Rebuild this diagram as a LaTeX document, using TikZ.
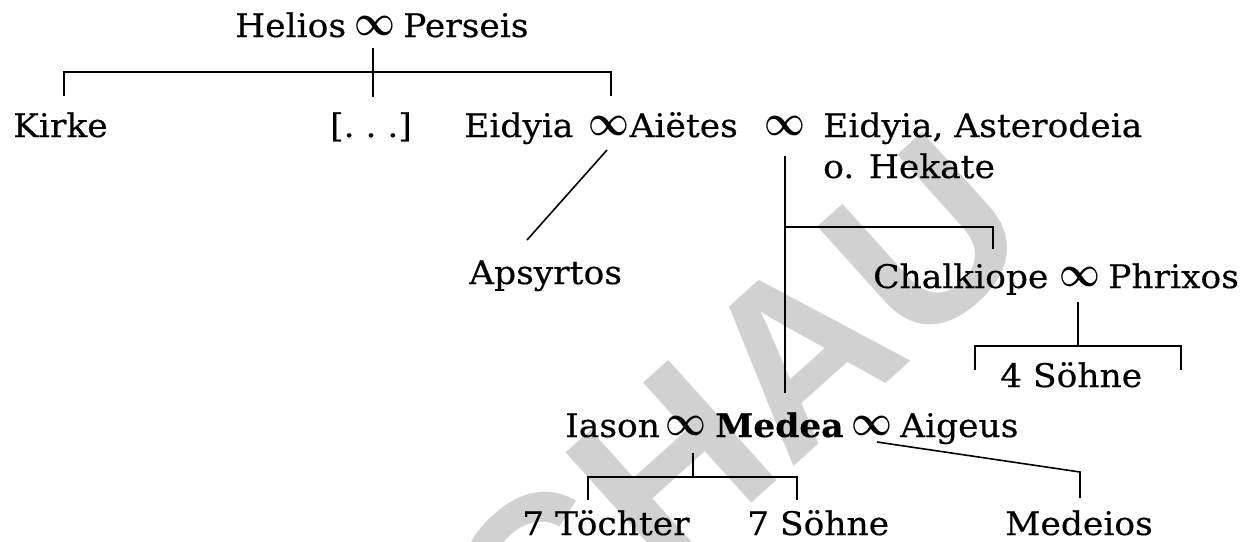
\documentclass[tikz,border=0pt]{standalone}
\usepackage{fontspec}
\setmainfont[FakeStretch=1.06,FakeBold=0.4]{DejaVu Serif}
\newfontfamily\wmfont{Liberation Sans}
\newcommand{\myinf}{\raisebox{1.5pt}{\scalebox{3.55}[4.3]{\boldmath$\infty$}}}
\tikzset{
  txt/.style={inner sep=0pt, anchor=base west, font=\fontsize{32.5}{38}\selectfont},
  inf/.style={inner sep=0pt, anchor=base},
  conn/.style={line width=1.6pt, line cap=butt},
}
\begin{document}
\begin{tikzpicture}[x=1pt,y=-1pt]
\useasboundingbox (0,0) rectangle (1252,541);
% watermark
\node[rotate=42, text=gray!36, font=\wmfont\bfseries\fontsize{235}{235}\selectfont, inner sep=0pt] (wm) at (735,410) {CHAU};
% row 1
\node[txt] (helios) at (235,37) {Helios};
\node[inf] (inf1) at (374.5,37) {\myinf};
\node[txt] (perseis) at (403,37) {Perseis};
% row 2
\node[txt] (kirke) at (13,137) {Kirke};
\node[txt] (dots) at (330,137) {[.\ .\ .]};
\node[txt] (eidyia1) at (464,137) {Eidyia};
\node[inf] (inf2) at (608.5,137) {\myinf};
\node[txt, anchor=base east] (aietes) at (738,137) {Aiëtes};
\node[inf] (inf3) at (784.5,137) {\myinf};
\node[txt] (eidyia2) at (823,137) {Eidyia, Asterodeia};
\node[txt] (hekate) at (823,178) {o. Hekate};
% row 3
\node[txt] (apsyrtos) at (469,284) {Apsyrtos};
\node[txt] (chalkiope) at (873,288) {Chalkiope};
\node[inf] (inf4) at (1080,288) {\myinf};
\node[txt] (phrixos) at (1108,288) {Phrixos};
\node[txt] (soehne4) at (1000,387) {4 Söhne};
% row 4
\node[txt] (iason) at (565,437) {Iason};
\node[inf] (inf5) at (685.5,437) {\myinf};
\node[txt] (medea) at (715,437) {\bfseries Medea};
\node[inf] (inf6) at (871.5,437) {\myinf};
\node[txt] (aigeus) at (900,437) {Aigeus};
% row 5
\node[txt] (toechter) at (522,535) {7 Töchter};
\node[txt] (soehne7) at (747,535) {7 Söhne};
\node[txt] (medeios) at (1005,535) {Medeios};
% connector points
\coordinate (h1) at (373,48);
\coordinate (h2) at (373,72);
\coordinate (h3) at (373,97);
\coordinate (k1) at (64,96);
\coordinate (e1) at (611,96);
\coordinate (a1) at (607,150);
\coordinate (a2) at (527,240);
\coordinate (m1) at (785,156);
\coordinate (m2) at (785,227);
\coordinate (m3) at (785,393);
\coordinate (c1) at (993,249);
\coordinate (p1) at (1078,302);
\coordinate (p2) at (1078,346);
\coordinate (s1) at (975,370);
\coordinate (s2) at (1181,370);
\coordinate (j1) at (693,453);
\coordinate (j2) at (693,477);
\coordinate (t1) at (588,500);
\coordinate (t2) at (797,500);
\coordinate (g1) at (877,442);
\coordinate (g2) at (1080,472);
\coordinate (g3) at (1080,498);
% connectors
\draw[conn] (h1) -- (h3);
\draw[conn] (k1) |- (h2) -| (e1);
\draw[conn] (a1) -- (a2);
\draw[conn] (m1) -- (m3);
\draw[conn] (m2) -| (c1);
\draw[conn] (p1) -- (p2);
\draw[conn] (s1) |- (p2) -| (s2);
\draw[conn] (j1) -- (j2);
\draw[conn] (t1) |- (j2) -| (t2);
\draw[conn] (g1) -- (g2) -- (g3);
\end{tikzpicture}
\end{document}
